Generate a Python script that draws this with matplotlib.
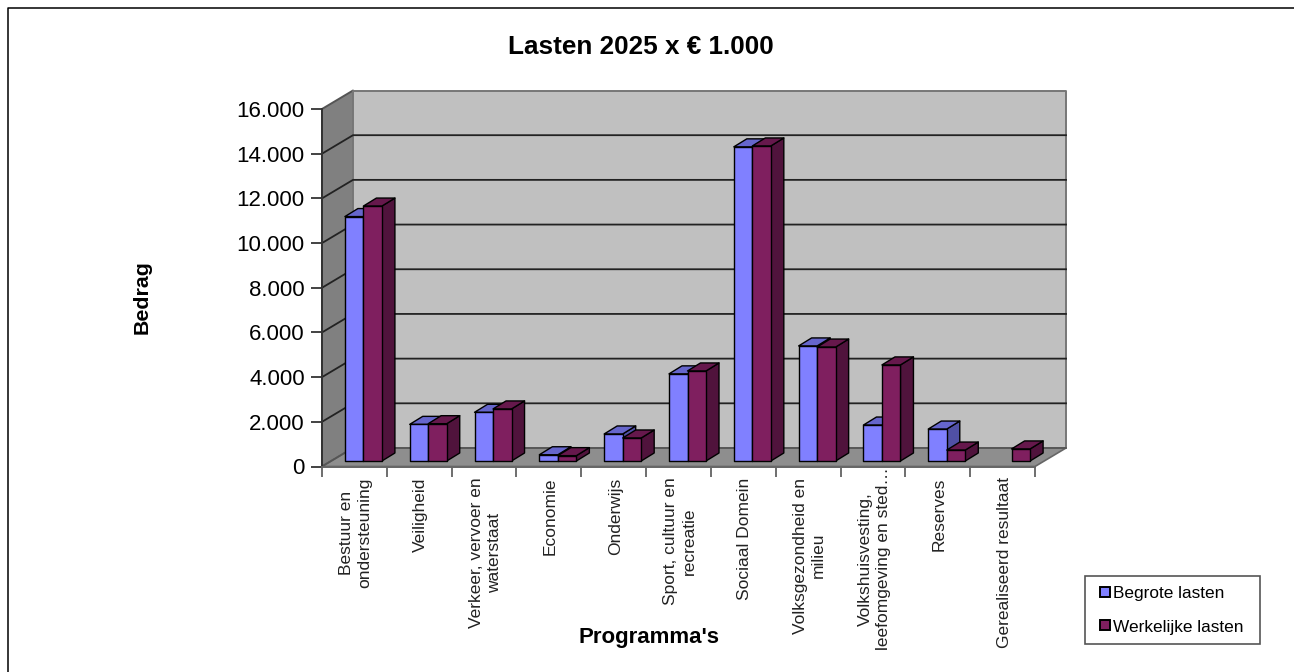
import matplotlib
matplotlib.use("Agg")
import matplotlib.pyplot as plt
from matplotlib.legend_handler import HandlerPatch
from matplotlib.lines import Line2D
from matplotlib.patches import Patch, Polygon, Rectangle

plt.rcParams["font.family"] = ["Liberation Sans", "DejaVu Sans"]

categories = [
    "Bestuur en\nondersteuning",
    "Veiligheid",
    "Verkeer, vervoer en\nwaterstaat",
    "Economie",
    "Onderwijs",
    "Sport, cultuur en\nrecreatie",
    "Sociaal Domein",
    "Volksgezondheid en\nmilieu",
    "Volkshuisvesting,\nleefomgeving en sted…",
    "Reserves",
    "Gerealiseerd resultaat",
]
begrote = [10940, 1640, 2180, 280, 1210, 3900, 14060, 5150, 1610, 1430, 0]
werkelijke = [11410, 1670, 2330, 240, 1030, 4030, 14100, 5100, 4300, 490, 540]
y_ticks = list(range(0, 16001, 2000))

W, H = 1294, 672
# front plane of the fake 3d box, in pixels
LEFT, RIGHT, TOP, BOTTOM = 322, 1035, 109, 466.5

fig = plt.figure(figsize=(W / 100, H / 100), dpi=100)
ax = fig.add_axes([LEFT / W, 1 - BOTTOM / H, (RIGHT - LEFT) / W, (BOTTOM - TOP) / H])
n = len(categories)
ax.set_xlim(0, n)
ax.set_ylim(0, 16000)
for s in ax.spines.values():
    s.set_visible(False)
ax.patch.set_visible(False)

# oblique depth, in data units per unit of depth
unit_x = (RIGHT - LEFT) / n
unit_y = (BOTTOM - TOP) / 16000
DX = 31 / unit_x
DY = 18.5 / unit_y


def poly(pts, fc, ec="black", lw=1.0, z=1):
    ax.add_patch(Polygon(pts, closed=True, fc=fc, ec=ec, lw=lw, zorder=z, clip_on=False,
                         joinstyle="round"))


# walls and floor
top = y_ticks[-1]
poly([(0, 0), (DX, DY), (DX, top + DY), (0, top)], "#808080", ec="#555555", lw=1.4)
poly([(DX, DY), (n + DX, DY), (n + DX, top + DY), (DX, top + DY)], "#c0c0c0", ec="#777777", lw=1.4)
poly([(0, 0), (n, 0), (n + DX, DY), (DX, DY)], "#8e8e8e", ec="#666666", lw=1.2)

for v in y_ticks[1:-1]:
    ax.plot([0, DX, n + DX], [v, v + DY, v + DY], color="#222222", lw=1.3, zorder=1.5, clip_on=False)
ax.plot([0, DX, n + DX], [0, DY, DY], color="#555555", lw=1.2, zorder=1.5, clip_on=False)
ax.plot([0, 0], [0, top], color="#333333", lw=1.4, zorder=1.6, clip_on=False)
ax.plot([0, n], [0, 0], color="#666666", lw=1.4, zorder=1.6, clip_on=False)

BLUE = ("#8080ff", "#6666cc", "#5050a5")
PURPLE = ("#7f1f5f", "#66184c", "#50133c")

bar_w = 18.5 / unit_x
off_x = 9 / unit_x
off_y = 5.5 / unit_y
d_x = 13 / unit_x
d_y = 8 / unit_y
gap = (1 - 2 * bar_w) / 2


def draw_bar(x0, value, colors, z):
    if value <= 0:
        return
    x = x0 + off_x
    b = off_y
    t = b + value
    poly([(x + bar_w, b), (x + bar_w + d_x, b + d_y), (x + bar_w + d_x, t + d_y), (x + bar_w, t)],
         colors[2], z=z)
    poly([(x, t), (x + d_x, t + d_y), (x + bar_w + d_x, t + d_y), (x + bar_w, t)], colors[1], z=z)
    poly([(x, b), (x + bar_w, b), (x + bar_w, t), (x, t)], colors[0], z=z + 0.1)


for i in range(n):
    draw_bar(i + gap, begrote[i], BLUE, 2 + i)
    draw_bar(i + gap + bar_w, werkelijke[i], PURPLE, 2.5 + i)

ax.set_yticks(y_ticks)
ax.set_yticklabels([f"{v:,}".replace(",", ".") for v in y_ticks], fontsize=16, color="black")
ax.set_xticks(range(n + 1))
ax.set_xticklabels([""] * (n + 1))
ax.tick_params(axis="y", length=8, width=1.2, color="#222222", pad=4.5)
ax.tick_params(axis="x", length=7, width=1.2, color="#555555")

for i, name in enumerate(categories):
    # the cut off label runs up to the axis, the others start lower
    dy = -1 if name.endswith("…") else -11
    ax.annotate(name, xy=(i + 0.5, 0), xycoords=("data", "axes fraction"), xytext=(1.5, dy),
                textcoords="offset pixels", rotation=90, ha="center", va="top", ma="center",
                fontsize=12.5, color="#222222", linespacing=1.25)

fig.text(640.5 / W, 1 - 46.5 / H, "Lasten 2025 x € 1.000", fontsize=18.8, fontweight="bold",
         ha="center", va="center")
fig.text(142 / W, 1 - 297 / H, "Bedrag", fontsize=15.4, fontweight="bold", rotation=90,
         ha="center", va="center")
fig.text(649 / W, 1 - 638 / H, "Programma's", fontsize=16, fontweight="bold",
         ha="center", va="center")


def legend_key(legend, orig_handle, xdescent, ydescent, width, height, fontsize):
    # small square at the right end of the handle slot
    size = 0.58 * fontsize
    return Rectangle((width - size - 0.2 * fontsize, (height - size) / 2), size, size)


handles = [Patch(fc=BLUE[0], ec="black", lw=1.4, label="Begrote lasten"),
           Patch(fc=PURPLE[0], ec="black", lw=1.4, label="Werkelijke lasten")]
leg = fig.legend(handles=handles, loc="lower left",
                 bbox_to_anchor=(1085 / W, 1 - 644 / H, 175 / W, 69 / H), mode="expand",
                 fontsize=12.4, frameon=True, fancybox=False, edgecolor="#555555", framealpha=1,
                 handlelength=1.1, handleheight=0.75, handletextpad=0.0, labelspacing=1.07,
                 borderpad=0.54, borderaxespad=0,
                 handler_map={Patch: HandlerPatch(patch_func=legend_key)})
leg.get_frame().set_linewidth(1.2)

# chart area border, only the top and left edges fall inside the image
fig.add_artist(Line2D([7.5 / W, 7.5 / W, 1], [0, 1 - 7.5 / H, 1 - 7.5 / H],
                      transform=fig.transFigure, color="black", lw=1.1))

fig.savefig("out.png", dpi=100)
